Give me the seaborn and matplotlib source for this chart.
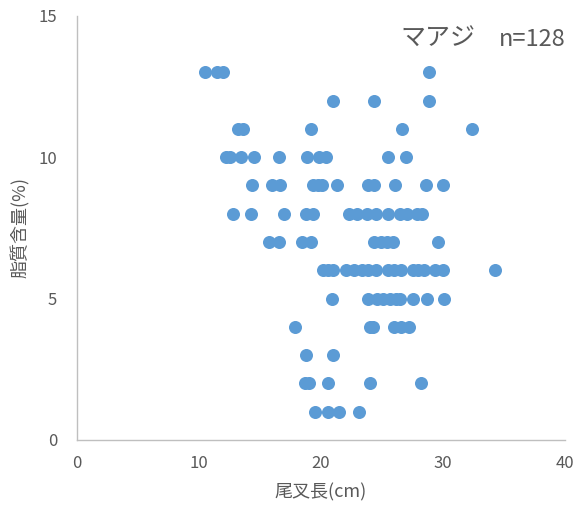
import pandas as pd
import matplotlib.pyplot as plt
import seaborn as sns

# fork length (cm) per fat-content level (%)
fat_13 = [10.5, 11.5, 12.0, 28.9]
fat_12 = [21.0, 24.4, 28.9]
fat_11 = [13.2, 13.6, 19.2, 26.7, 32.4]
fat_10 = [12.2, 12.6, 13.5, 14.5, 16.6, 18.9, 19.9, 20.4, 25.5, 27.0]
fat_9 = [14.4, 16.0, 16.7, 19.4, 19.8, 20.1, 21.3, 23.9, 24.4, 26.1, 28.6, 30.0]
fat_8 = [12.8, 14.3, 17.0, 18.8, 19.4, 22.3, 23.0, 23.8, 24.5, 25.5, 26.5, 27.1, 27.9, 28.3]
fat_7 = [15.8, 16.6, 18.5, 19.2, 24.4, 24.9, 25.4, 25.9, 29.6]
fat_6 = [20.2, 20.6, 21.0, 22.1, 22.7, 23.4, 23.9, 24.5, 25.5, 26.0, 26.6, 27.6, 28.0, 28.5, 29.4, 30.0, 34.3]
fat_5 = [20.9, 23.9, 24.6, 25.1, 25.7, 26.2, 26.5, 27.6, 28.7, 30.1]
fat_4 = [17.9, 24.0, 24.3, 26.0, 26.6, 27.2]
fat_3 = [18.8, 21.0]
fat_2 = [18.7, 19.0, 20.6, 24.0, 28.2]
fat_1 = [19.5, 20.6, 21.5, 23.1]

levels = {13: fat_13, 12: fat_12, 11: fat_11, 10: fat_10, 9: fat_9, 8: fat_8, 7: fat_7,
          6: fat_6, 5: fat_5, 4: fat_4, 3: fat_3, 2: fat_2, 1: fat_1}

rows = []
for fat, lengths in levels.items():
    for fl in lengths:
        rows.append({"length": fl, "fat": fat})
df = pd.DataFrame(rows)

x_ticks = [0, 10, 20, 30, 40]
y_ticks = [0, 5, 10, 15]

sns.set_style("white")
plt.rcParams['font.family'] = ['Noto Sans CJK JP', 'DejaVu Sans']

grey = "#BFBFBF"
text_grey = "#595959"

fig = plt.figure(figsize=(5.73, 5.11), dpi=100)
ax = fig.add_axes([0.1337, 0.139, 0.852, 0.830])

sns.scatterplot(data=df, x="length", y="fat", ax=ax, color="#5B9BD5",
                s=88, linewidth=0, alpha=1)

ax.set_xlim(0, 40)
ax.set_ylim(0, 15)
ax.set_xticks(x_ticks)
ax.set_yticks(y_ticks)

for side in ["top", "right"]:
    ax.spines[side].set_visible(False)
for side in ["left", "bottom"]:
    ax.spines[side].set_color(grey)
    ax.spines[side].set_linewidth(1.0)

ax.tick_params(axis="both", direction="in", length=4, width=1, color=grey,
               labelcolor=text_grey, labelsize=12)
ax.tick_params(axis="y", pad=14)
ax.tick_params(axis="x", pad=11)

ax.set_xlabel("尾叉長(cm)", fontsize=13, color=text_grey, labelpad=8)
ax.set_ylabel("脂質含量(%)", fontsize=13, color=text_grey, labelpad=6)

fig.text(0.829, 0.91, "マアジ", fontsize=18, color=text_grey, ha="right", va="baseline")
fig.text(0.988, 0.91, "n=128", fontsize=17, color=text_grey, ha="right", va="baseline")

fig.savefig("out.png", dpi=100)
